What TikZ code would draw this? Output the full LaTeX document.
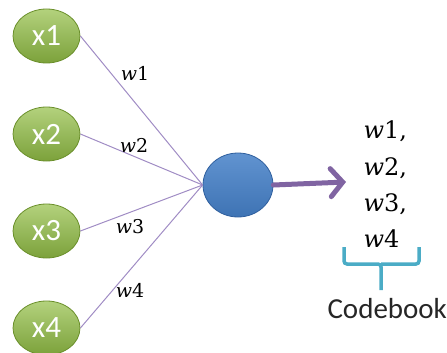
\documentclass[tikz,border=0pt]{standalone}
\usepackage{fontspec}
\newfontfamily\calibri{Carlito}
\newfontfamily\cambria{DejaVu Serif}
\usetikzlibrary{shapes.geometric, arrows.meta}
\definecolor{leafgreen}{HTML}{92BE45}
\definecolor{leafdark}{HTML}{6A8F2A}
\definecolor{ballblue}{HTML}{4580C8}
\definecolor{balldark}{HTML}{2F5F9E}
\definecolor{wire}{HTML}{A08CC4}
\definecolor{plum}{HTML}{8064A2}
\definecolor{teal}{HTML}{4BACC6}
\newcommand{\wt}[1]{{\itshape w}#1}

\begin{document}
\begin{tikzpicture}[x=1pt, y=-1pt,
    inp/.style={ellipse, draw=leafdark, line width=0.8pt,
      top color=leafgreen!70!white, bottom color=leafgreen!85!black,
      minimum width=67pt, minimum height=54pt, inner sep=0pt,
      text=white, font=\calibri\fontsize{31}{31}\selectfont},
    lbl/.style={font=\cambria\fontsize{19}{19}\selectfont},
    cbk/.style={anchor=base west, font=\cambria\fontsize{24}{24}\selectfont},
    wire/.style={draw=wire, line width=1pt},
  ]
    \useasboundingbox (0,0) rectangle (447,353);
    \node[inp] (x1) at (46.5, 36) {x1};
    \node[inp] (x2) at (46.5, 134) {x2};
    \node[inp] (x3) at (46.5, 231) {x3};
    \node[inp] (x4) at (46.5, 328) {x4};

    \node[ellipse, draw=balldark, line width=0.8pt,
      top color=ballblue!85!white, bottom color=ballblue!90!black,
      minimum width=70pt, minimum height=64pt] (hub) at (238, 185) {};

    \foreach \i in {1,...,4}
      \draw[wire] (x\i.east) -- (hub.west);

    \node[lbl] (w1) at (135, 73) {\wt{1}};
    \node[lbl] (w2) at (134, 145) {\wt{2}};
    \node[lbl] (w3) at (130, 227) {\wt{3}};
    \node[lbl] (w4) at (130, 290) {\wt{4}};

    \coordinate (tip) at (346, 182);
    \draw[plum, line width=5pt, line cap=round,
      -{Straight Barb[length=12pt, width=28pt, line cap=round]}]
      (hub.east) -- (tip);

    \node[cbk] (c1) at (360, 138) {\wt{1},};
    \node[cbk] (c2) at (360, 175) {\wt{2},};
    \node[cbk] (c3) at (360, 211) {\wt{3},};
    \node[cbk] (c4) at (360, 247) {\wt{4}};

    % brace under the list
    \draw[teal, line width=3.5pt, rounded corners=3pt] (344, 247) |- (381, 264) -- (381, 290);
    \draw[teal, line width=3.5pt, rounded corners=3pt] (419, 247) |- (381, 264);

    \node[font=\calibri\fontsize{29}{29}\selectfont, text=black!85, anchor=west] (book) at (324, 309) {Codebook};
  \end{tikzpicture}
\end{document}
